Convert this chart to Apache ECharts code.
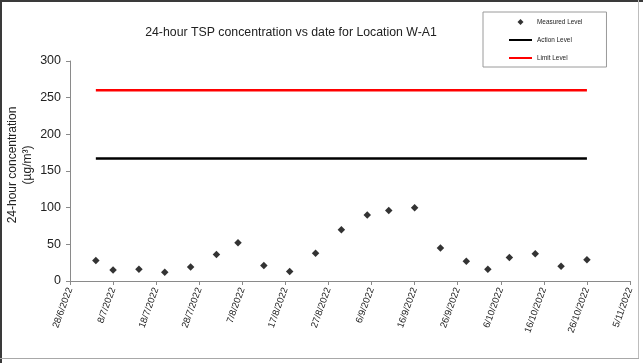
<!DOCTYPE html>
<html>
<head>
<meta charset="utf-8">
<script src="https://cdn.jsdelivr.net/npm/echarts@6/dist/echarts.min.js"></script>
<style>
html,body{margin:0;padding:0;background:#fff;}
#c{width:643px;height:363px;}
</style>
</head>
<body>
<div id="c"></div>
<script>
// ---- data ----
var dates = ["4/7/2022","8/7/2022","14/7/2022","20/7/2022","26/7/2022","1/8/2022","6/8/2022","12/8/2022","18/8/2022","24/8/2022","30/8/2022","5/9/2022","10/9/2022","16/9/2022","22/9/2022","28/9/2022","3/10/2022","8/10/2022","14/10/2022","20/10/2022","26/10/2022"];
var measured = [28,15,16,12,19,36,52,21,13,38,70,90,96,100,45,27,16,32,37,20,29];
var actionLevel = 167;
var limitLevel = 260;
var axisStart = "28/6/2022";
var axisEnd = "5/11/2022";
var yTicks = [0,50,100,150,200,250,300];

function toUTC(s){var p=s.split('/');return Date.UTC(+p[2],+p[1]-1,+p[0]);}
var DAY = 86400000;
var t0 = toUTC(axisStart);
function dayOff(s){return Math.round((toUTC(s)-t0)/DAY);}
function fmt(v){var d=new Date(t0+v*DAY);return d.getUTCDate()+'/'+(d.getUTCMonth()+1)+'/'+d.getUTCFullYear();}

var scatterData = dates.map(function(d,i){return [dayOff(d), measured[i]];});
var firstX = dayOff(dates[0]), lastX = dayOff(dates[dates.length-1]);
var FONT = 'Liberation Sans, Arial, sans-serif';

var chart = echarts.init(document.getElementById('c'), null, {renderer:'canvas'});
chart.setOption({
  animation:false,
  backgroundColor:'#fff',
  title:{text:'24-hour TSP concentration vs date for Location W-A1', left:291, top:27, padding:0, textAlign:'center',
    textStyle:{fontFamily:FONT, fontSize:12.3, fontWeight:'normal', color:'#222'}},
  legend:{orient:'vertical', left:483, top:12, padding:[6,24,5,25], itemGap:10, itemWidth:23, itemHeight:8,
    borderColor:'#9a9a9a', borderWidth:1, backgroundColor:'#fff', symbolKeepAspect:true,
    textStyle:{fontFamily:FONT, fontSize:6.4, color:'#222', lineHeight:8},
    data:[
      {name:'Measured Level', icon:'path://M0,0M23,8M11.5,1L14.5,4L11.5,7L8.5,4Z'},
      {name:'Action Level', itemStyle:{opacity:0}},
      {name:'Limit Level', itemStyle:{opacity:0}}
    ]},
  grid:{left:70, right:13, top:61, bottom:82, containLabel:false},
  xAxis:{type:'value', min:0, max:dayOff(axisEnd), interval:10,
    axisLine:{lineStyle:{color:'#8a8a8a', width:1}},
    axisTick:{show:true, inside:false, length:4, lineStyle:{color:'#8a8a8a'}},
    splitLine:{show:false},
    axisLabel:{rotate:70, margin:7, fontFamily:FONT, fontSize:9.5, color:'#222', formatter:function(v){return fmt(v);}}},
  yAxis:{type:'value', min:yTicks[0], max:yTicks[yTicks.length-1], interval:yTicks[1]-yTicks[0],
    axisLine:{show:true, lineStyle:{color:'#8a8a8a', width:1}},
    axisTick:{show:true, inside:false, length:4, lineStyle:{color:'#8a8a8a'}},
    splitLine:{show:false},
    axisLabel:{margin:9, fontFamily:FONT, fontSize:12.5, color:'#222'}},
  graphic:[
    {type:'rect', shape:{x:0,y:0,width:643,height:2}, style:{fill:'#3a3a3a'}, silent:true},
    {type:'rect', shape:{x:0,y:0,width:2,height:363}, style:{fill:'#3a3a3a'}, silent:true},
    {type:'rect', shape:{x:638,y:0,width:1,height:359}, style:{fill:'#bdbdbd'}, silent:true},
    {type:'rect', shape:{x:0,y:358,width:639,height:1}, style:{fill:'#a8a8a8'}, silent:true},
    {type:'text', x:13, y:165, rotation:Math.PI/2, style:{text:'24-hour concentration', fontFamily:FONT, fontSize:12, fill:'#222', textAlign:'center', textVerticalAlign:'middle'}},
    {type:'text', x:28, y:165, rotation:Math.PI/2, style:{text:'(µg/m³)', fontFamily:FONT, fontSize:12, fill:'#222', textAlign:'center', textVerticalAlign:'middle'}}
  ],
  series:[
    {name:'Measured Level', type:'scatter', symbol:'diamond', symbolSize:7.5, itemStyle:{color:'#000'}, data:scatterData, z:5},
    {name:'Action Level', type:'line', symbol:'none', lineStyle:{color:'#000', width:2.5}, itemStyle:{color:'#000'},
      data:[[firstX,actionLevel],[lastX,actionLevel]]},
    {name:'Limit Level', type:'line', symbol:'none', lineStyle:{color:'#ff0000', width:2.5}, itemStyle:{color:'#ff0000'},
      data:[[firstX,limitLevel],[lastX,limitLevel]]}
  ]
});
</script>
</body>
</html>
